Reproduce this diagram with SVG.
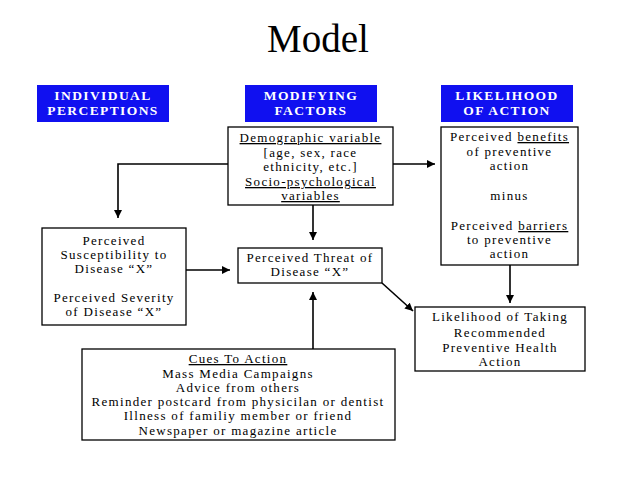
<svg xmlns="http://www.w3.org/2000/svg" width="638" height="479" viewBox="0 0 638 479">
<style>
.hdr{fill:#1010F0;stroke:none}
.hdrt{font-family:"Liberation Serif",serif;font-weight:bold;font-size:13.5px;fill:#fff;text-anchor:middle;letter-spacing:1.4px}
.box{fill:#fff;stroke:#000;stroke-width:1.3}
.t{font-family:"Liberation Serif",serif;font-size:13px;fill:#000;text-anchor:middle;letter-spacing:1.3px}
.u{text-decoration:underline}
.conn{fill:none;stroke:#000;stroke-width:1.6}
</style>
<defs>
<marker id="ah" markerWidth="9" markerHeight="9" refX="8" refY="4" orient="auto" markerUnits="userSpaceOnUse">
<path d="M0,0 L8,4 L0,8 z" fill="#000"/>
</marker>
</defs>
<rect width="638" height="479" fill="#fff"/>
<text x="318" y="52" font-family="Liberation Serif, serif" font-size="39" text-anchor="middle" fill="#000">Model</text>

<g id="hdr-individual">
<rect class="hdr" x="37" y="85" width="132" height="37"/>
<text class="hdrt" x="103" y="100">INDIVIDUAL</text>
<text class="hdrt" x="103" y="115">PERCEPTIONS</text>
</g>
<g id="hdr-modifying">
<rect class="hdr" x="245" y="85" width="132" height="37"/>
<text class="hdrt" x="311" y="100">MODIFYING</text>
<text class="hdrt" x="311" y="115">FACTORS</text>
</g>
<g id="hdr-likelihood">
<rect class="hdr" x="441" y="85" width="132" height="37"/>
<text class="hdrt" x="507" y="100">LIKELIHOOD</text>
<text class="hdrt" x="507" y="115">OF ACTION</text>
</g>

<g id="connectors">
<path class="conn" d="M228,164 H118 V218" marker-end="url(#ah)"/>
<path class="conn" d="M393,164 H435" marker-end="url(#ah)"/>
<path class="conn" d="M313,205 V240" marker-end="url(#ah)"/>
<path class="conn" d="M186,270 H230" marker-end="url(#ah)"/>
<path class="conn" d="M313,349 V292" marker-end="url(#ah)"/>
<path class="conn" d="M382,283 L413,311" marker-end="url(#ah)"/>
<path class="conn" d="M510,265 V303" marker-end="url(#ah)"/>
</g>

<g id="demographic">
<rect class="box" x="228" y="127" width="165" height="78"/>
<text class="t u" x="310.5" y="142">Demographic variable</text>
<text class="t" x="310.5" y="157">[age, sex, race</text>
<text class="t" x="310.5" y="171">ethnicity, etc.]</text>
<text class="t u" x="310.5" y="186">Socio-psychological</text>
<text class="t u" x="310.5" y="200">variables</text>
</g>

<g id="benefits">
<rect class="box" x="441" y="127" width="137" height="138"/>
<text class="t" x="509.5" y="141">Perceived <tspan class="u">benefits</tspan></text>
<text class="t" x="509.5" y="156">of preventive</text>
<text class="t" x="509.5" y="170">action</text>
<text class="t" x="509.5" y="200">minus</text>
<text class="t" x="509.5" y="230">Perceived <tspan class="u">barriers</tspan></text>
<text class="t" x="509.5" y="244">to preventive</text>
<text class="t" x="509.5" y="258">action</text>
</g>

<g id="susceptibility">
<rect class="box" x="42" y="228" width="144" height="97"/>
<text class="t" x="114" y="245">Perceived</text>
<text class="t" x="114" y="259">Susceptibility to</text>
<text class="t" x="114" y="273">Disease “X”</text>
<text class="t" x="114" y="302">Perceived Severity</text>
<text class="t" x="114" y="316">of Disease “X”</text>
</g>

<g id="threat">
<rect class="box" x="238" y="248" width="144" height="35"/>
<text class="t" x="310" y="262">Perceived Threat of</text>
<text class="t" x="310" y="276">Disease “X”</text>
</g>

<g id="likelihood">
<rect class="box" x="415" y="307" width="170" height="64"/>
<text class="t" x="500" y="321">Likelihood of Taking</text>
<text class="t" x="500" y="337">Recommended</text>
<text class="t" x="500" y="352">Preventive Health</text>
<text class="t" x="500" y="366">Action</text>
</g>

<g id="cues">
<rect class="box" x="82" y="349" width="313" height="91"/>
<text class="t u" x="238" y="363">Cues To Action</text>
<text class="t" x="238" y="378">Mass Media Campaigns</text>
<text class="t" x="238" y="392">Advice from others</text>
<text class="t" x="238" y="406">Reminder postcard from physicilan or dentist</text>
<text class="t" x="238" y="420">Illness of familiy member or friend</text>
<text class="t" x="238" y="435">Newspaper or magazine article</text>
</g>
</svg>
